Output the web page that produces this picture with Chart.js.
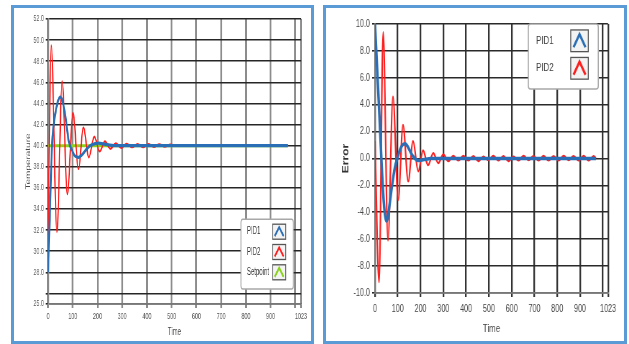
<!DOCTYPE html>
<html>
<head>
<meta charset="utf-8">
<script src="https://cdn.jsdelivr.net/npm/chart.js@4/dist/chart.umd.min.js"></script>
<style>
  html, body { margin: 0; padding: 0; background: #fff; }
  .panel { position: absolute; top: 5px; border: 3px solid #5b9bd5; overflow: hidden; background: #fff; }
  #p1 { left: 11px; width: 297px; height: 333px; }
  #p2 { left: 323px; width: 298px; height: 333px; }
  .panel canvas { position: absolute; left: 0; top: 0; transform-origin: 0 0; }
  #c1 { transform: scaleX(0.6); }
  #c2 { transform: scaleX(0.72); }
</style>
</head>
<body>
<div class="panel" id="p1"><canvas id="c1" width="495" height="333"></canvas></div>
<div class="panel" id="p2"><canvas id="c2" width="414" height="333"></canvas></div>
<script>
// ---- Temperature response ----
const pid1TempTime = [0, 8, 16, 22, 30, 40, 50, 60, 70, 84, 96, 110, 124, 140, 155, 170, 190, 205, 225, 250, 280, 970];
const pid1Temp     = [28, 34, 40, 41.8, 43.1, 44.2, 44.6, 44.1, 42.8, 40.4, 39.6, 39.0, 38.9, 39.2, 39.65, 40.0, 40.2, 40.25, 40.15, 40.05, 40, 40];

const pid2TempTime = [0, 13, 36, 57, 78, 101, 123, 143, 165, 187, 209, 230, 252, 274, 296, 318, 340, 362, 384, 406, 428, 450, 472, 494, 520, 970];
const pid2Temp     = [31.5, 49.5, 31.8, 46.1, 35.4, 43.1, 37.8, 41.7, 38.9, 40.85, 39.45, 40.4, 39.7, 40.22, 39.8, 40.18, 39.85, 40.15, 39.86, 40.14, 39.88, 40.12, 39.9, 40.1, 40, 40];

const setpointTime = [0, 970];
const setpointTemp = [40, 40];

const tempTicks = [25, 26, 28, 30, 32, 34, 36, 38, 40, 42, 44, 46, 48, 50, 52];

// ---- Control error ----
const pid1ErrTime = [0, 10, 20, 28, 36, 44, 50, 56, 65, 75, 87, 98, 110, 120, 132, 145, 160, 175, 190, 215, 245, 970];
const pid1Err     = [10, 6.5, 3, 0, -2.6, -4.2, -4.65, -4.4, -3.3, -2, -0.7, 0, 0.65, 0.98, 1.1, 0.85, 0.35, 0, -0.15, -0.08, 0, 0];

const pid2ErrTime = [0, 18, 36, 57, 79, 102, 123, 146, 167, 190, 211, 233, 256, 278, 300, 322, 344, 366, 388, 410,
                     432, 454, 476, 498, 520, 542, 564, 586, 608, 630, 652, 674, 696, 718, 740, 762, 784, 806, 828, 850,
                     872, 894, 916, 938, 960, 970];
const pid2Err     = [1.3, -9.2, 9.4, -6.1, 4.6, -3.1, 2.5, -1.7, 1.3, -0.95, 0.6, -0.5, 0.4, -0.35, 0.3, -0.2, 0.2, -0.15, 0.2, -0.15,
                     0.18, -0.2, 0.15, -0.12, 0.2, -0.15, 0.18, -0.2, 0.15, -0.15, 0.2, -0.12, 0.18, -0.15, 0.2, -0.15, 0.18, -0.15, 0.2, -0.12,
                     0.18, -0.15, 0.2, -0.15, 0.18, 0];

const errTicks = [-10, -8, -6, -4, -2, 0, 2, 4, 6, 8, 10];

// ---- Shared time axis ----
const timeTicks = [0, 100, 200, 300, 400, 500, 600, 700, 800, 900, 1000, 1023];

const FONT = "'Liberation Sans', Arial, sans-serif";
const BLUE = '#2a6fb5', RED = '#ff1e1e', GREEN = '#8ad21c';

const pts = (xs, ys) => xs.map((x, i) => ({ x: x, y: ys[i] }));

// Framed legend drawn inside the plot: name on the left, caret swatch on the right.
const boxLegend = {
  id: 'boxLegend',
  afterDatasetsDraw(chart, args, o) {
    const { ctx, chartArea } = chart;
    const x0 = chartArea.right - o.offsetRight - o.width;
    const y0 = o.anchor === 'top' ? chartArea.top + o.offsetY : chartArea.bottom - o.offsetY - o.height;
    ctx.save();
    ctx.fillStyle = '#fff';
    ctx.strokeStyle = '#a8a8a8';
    ctx.lineWidth = 1.6;
    ctx.beginPath();
    ctx.roundRect(x0, y0, o.width, o.height, 3);
    ctx.fill();
    ctx.stroke();
    chart.data.datasets.forEach((ds, i) => {
      const cy = y0 + o.firstRow + i * o.rowGap;
      ctx.fillStyle = o.textColor;
      ctx.font = o.fontSize + 'px ' + FONT;
      ctx.textAlign = 'left';
      ctx.textBaseline = 'middle';
      ctx.fillText(ds.label, x0 + o.textX, cy);
      const sx = x0 + o.iconX, sw = o.iconW, sh = o.iconH, sy = cy - sh / 2;
      ctx.fillStyle = '#f3f3f3';
      ctx.fillRect(sx, sy, sw, sh);
      ctx.strokeStyle = '#555';
      ctx.lineWidth = 1.3;
      ctx.strokeRect(sx, sy, sw, sh);
      ctx.strokeStyle = ds.borderColor;
      ctx.lineWidth = o.caretWidth;
      ctx.lineJoin = 'miter';
      ctx.beginPath();
      ctx.moveTo(sx + sw * 0.16, sy + sh * 0.8);
      ctx.lineTo(sx + sw * 0.5, sy + sh * 0.2);
      ctx.lineTo(sx + sw * 0.84, sy + sh * 0.8);
      ctx.stroke();
    });
    ctx.restore();
  }
};

function timeAxis(cfg) {
  return {
    type: 'linear', min: 0, max: 1023,
    afterBuildTicks: (axis) => { axis.ticks = timeTicks.map(v => ({ value: v })); },
    afterFit: (axis) => { axis.height = cfg.height; },
    grid: { color: cfg.gridColor, lineWidth: cfg.gridWidth, tickLength: 4 },
    border: { color: '#777', width: 1.5 },
    ticks: {
      autoSkip: false, maxRotation: 0, padding: cfg.tickPad, color: cfg.tickColor,
      font: { family: FONT, size: cfg.tickSize },
      callback: (v) => (v === 1000 ? '' : String(v))
    },
    title: {
      display: true, text: 'Time', color: '#444',
      font: { family: FONT, size: cfg.titleSize },
      padding: { top: 0, bottom: cfg.titlePad }
    }
  };
}

const commonOpts = {
  responsive: false,
  animation: false,
  devicePixelRatio: 1,
  plugins: { legend: { display: false }, tooltip: { enabled: false } },
  elements: { point: { radius: 0 }, line: { cubicInterpolationMode: 'monotone' } }
};

// Temperature chart
new Chart(document.getElementById('c1'), {
  type: 'line',
  data: {
    datasets: [
      { label: 'PID1', data: pts(pid1TempTime, pid1Temp), borderColor: BLUE, borderWidth: 3.2 },
      { label: 'PID2', data: pts(pid2TempTime, pid2Temp), borderColor: RED, borderWidth: 2.2 },
      { label: 'Setpoint', data: pts(setpointTime, setpointTemp), borderColor: GREEN, borderWidth: 3 }
    ]
  },
  options: Object.assign({}, commonOpts, {
    layout: { padding: { left: 0, top: 11, right: 16.7, bottom: 0 } },
    scales: {
      x: timeAxis({ height: 37, gridColor: '#8c8c8c', gridWidth: 3, tickPad: 3, tickColor: '#555', tickSize: 9, titleSize: 10, titlePad: 3 }),
      y: {
        type: 'linear', min: 25, max: 52,
        afterBuildTicks: (axis) => { axis.ticks = tempTicks.map(v => ({ value: v })); },
        afterFit: (axis) => { axis.width = 56.7; },
        grid: { color: '#262626', lineWidth: 1.6, tickLength: 4 },
        border: { color: '#888', width: 2.4 },
        ticks: {
          autoSkip: false, padding: 3, color: '#555',
          font: { family: FONT, size: 9 },
          callback: (v) => (v === 26 ? '' : v.toFixed(1))
        },
        title: {
          display: true, text: 'Temperature', color: '#444',
          font: { family: FONT, size: 10 },
          padding: { top: 18.5, bottom: 0 }
        }
      }
    },
    plugins: Object.assign({}, commonOpts.plugins, {
      boxLegend: { anchor: 'bottom', offsetRight: 12.8, offsetY: 15, width: 87.2, height: 69.7,
                   firstRow: 12.4, rowGap: 20.3, textX: 10, iconX: 52.7, iconW: 21.8, iconH: 15,
                   fontSize: 10, textColor: '#333', caretWidth: 2.6 }
    })
  }),
  plugins: [boxLegend]
});

// Error chart
new Chart(document.getElementById('c2'), {
  type: 'line',
  data: {
    datasets: [
      { label: 'PID1', data: pts(pid1ErrTime, pid1Err), borderColor: BLUE, borderWidth: 3.5 },
      { label: 'PID2', data: pts(pid2ErrTime, pid2Err), borderColor: RED, borderWidth: 2.2 }
    ]
  },
  options: Object.assign({}, commonOpts, {
    layout: { padding: { left: 0, top: 16, right: 22.3, bottom: 0 } },
    scales: {
      x: timeAxis({ height: 48, gridColor: '#333', gridWidth: 2.3, tickPad: 6, tickColor: '#444', tickSize: 10, titleSize: 11, titlePad: 5.4 }),
      y: {
        type: 'linear', min: -10, max: 10,
        afterBuildTicks: (axis) => { axis.ticks = errTicks.map(v => ({ value: v })); },
        afterFit: (axis) => { axis.width = 68; },
        grid: { color: '#2a2a2a', lineWidth: 1.6, tickLength: 4 },
        border: { color: '#777', width: 2 },
        ticks: {
          autoSkip: false, padding: 3, color: '#444',
          font: { family: FONT, size: 10 },
          callback: (v) => v.toFixed(1)
        },
        title: {
          display: true, text: 'Error', color: '#333',
          font: { family: FONT, size: 12, weight: 'bold' },
          padding: { top: 20.6, bottom: 0 }
        }
      }
    },
    plugins: Object.assign({}, commonOpts.plugins, {
      boxLegend: { anchor: 'top', offsetRight: 13.5, offsetY: 0, width: 97.2, height: 65,
                   firstRow: 16.8, rowGap: 27.5, textX: 10.7, iconX: 58.9, iconW: 24.4, iconH: 21.7,
                   fontSize: 11, textColor: '#444', caretWidth: 3 }
    })
  }),
  plugins: [boxLegend]
});
</script>
</body>
</html>
